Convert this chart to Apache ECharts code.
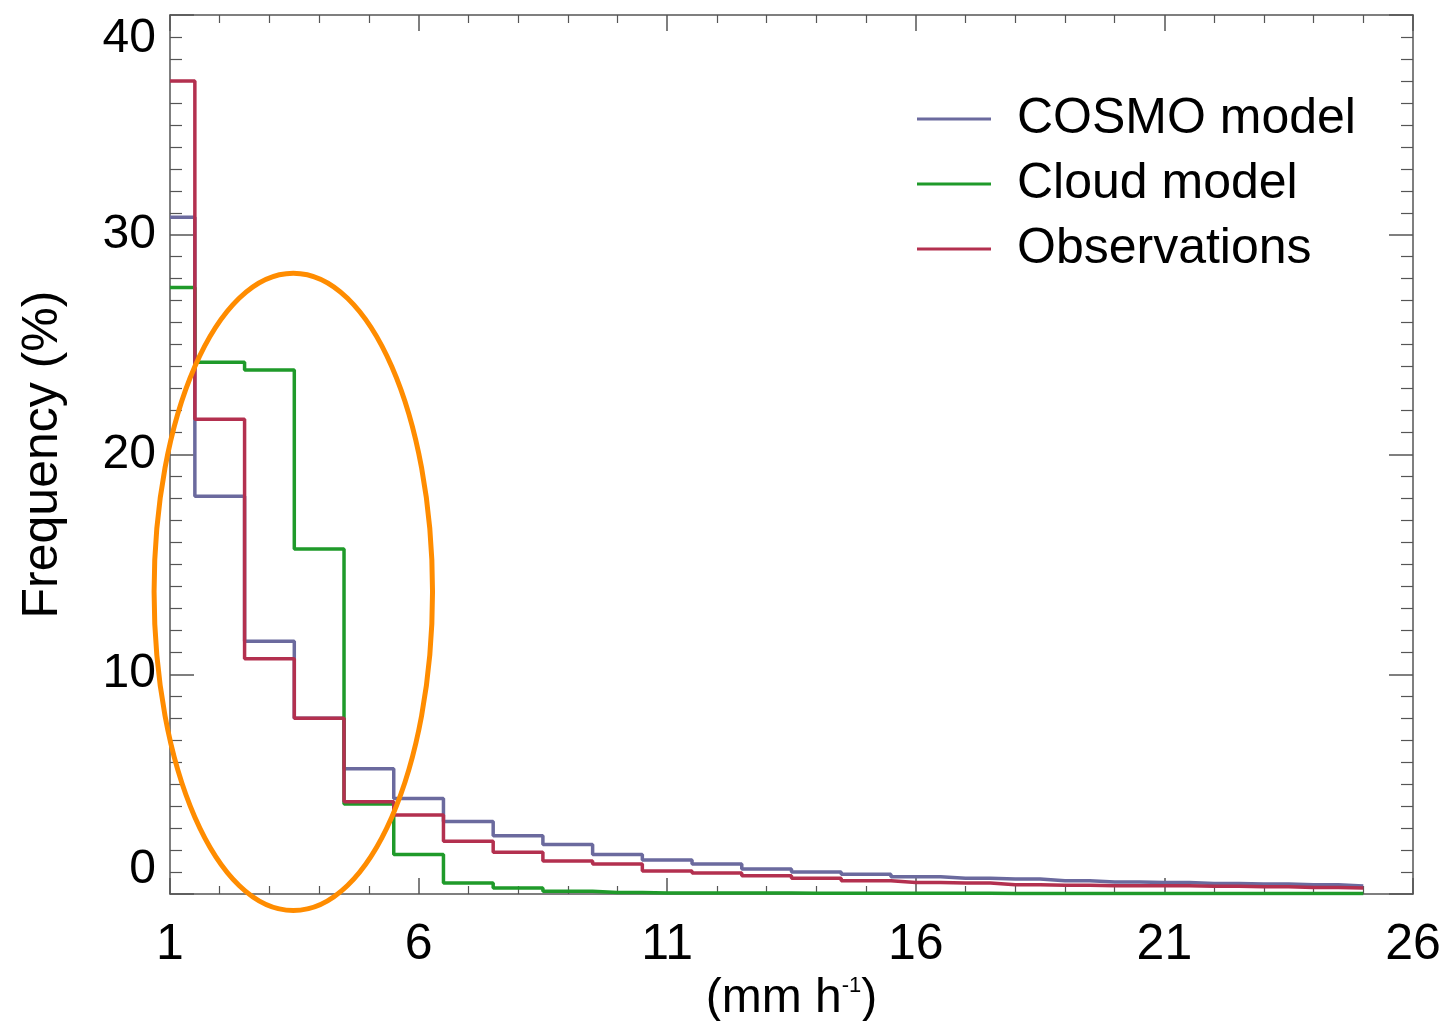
<!DOCTYPE html>
<html>
<head>
<meta charset="utf-8">
<script src="https://cdn.jsdelivr.net/npm/echarts@6/dist/echarts.min.js"></script>
<style>
  html, body { margin: 0; padding: 0; background: #fff; }
  #chart { width: 1446px; height: 1021px; }
</style>
</head>
<body>
<div id="chart"></div>
<script>
// rain rate bin centres (mm h-1)
const rates = [1, 2, 3, 4, 5, 6, 7, 8, 9, 10, 11, 12, 13, 14, 15, 16, 17, 18, 19, 20, 21, 22, 23, 24, 25]

const cosmo = [30.8, 18.1, 11.5, 8.0, 5.7, 4.35, 3.3, 2.65, 2.25, 1.8, 1.55, 1.37, 1.14, 1.0, 0.9, 0.78, 0.72, 0.68, 0.6, 0.55, 0.52, 0.48, 0.45, 0.42, 0.36]
const cloud = [27.6, 24.2, 23.85, 15.7, 4.1, 1.8, 0.5, 0.27, 0.12, 0.07, 0.05, 0.04, 0.04, 0.03, 0.03, 0.03, 0.03, 0.02, 0.02, 0.02, 0.02, 0.02, 0.02, 0.02, 0.02]
const obs = [37.0, 21.6, 10.7, 8.0, 4.2, 3.6, 2.4, 1.9, 1.5, 1.37, 1.05, 0.95, 0.83, 0.72, 0.6, 0.52, 0.5, 0.42, 0.4, 0.38, 0.37, 0.35, 0.33, 0.3, 0.27]

const seriesNames = ['COSMO model', 'Cloud model', 'Observations']
const seriesColors = ['#6b6a9e', '#1f9a2a', '#b3304f']

// orange annotation ellipse: centre x, centre y, x radius, y radius (data units)
const highlight = [3.48, 13.75, 2.8, 14.5]

const chart = echarts.init(document.getElementById('chart'))

const font = '"Liberation Sans", Arial, Helvetica, sans-serif'
const axisColor = '#555'

const makeSeries = (name, values, i) => ({
  name,
  type: 'line',
  step: 'middle',
  symbol: 'none',
  data: rates.map((r, k) => [r, values[k]]),
  lineStyle: { color: seriesColors[i], width: 3.5 },
  itemStyle: { color: seriesColors[i] },
  z: i === 2 ? 4 : 3
})

const frameAxisX = (show) => ({
  type: 'value',
  min: 1,
  max: 26,
  interval: 5,
  axisLine: { show: true, onZero: false, lineStyle: { color: axisColor, width: 1.5 } },
  axisTick: { show: true, inside: true, length: 16, lineStyle: { color: axisColor, width: 1.5 } },
  minorTick: { show: true, splitNumber: 5, length: 8, lineStyle: { color: axisColor, width: 1.2 } },
  splitLine: { show: false },
  axisLabel: show
    ? { show: true, fontFamily: font, fontSize: 50, color: '#000', margin: 26 }
    : { show: false }
})

const frameAxisY = (show) => ({
  type: 'value',
  min: 0,
  max: 40,
  interval: 10,
  axisLine: { show: true, onZero: false, lineStyle: { color: axisColor, width: 1.5 } },
  axisTick: { show: true, inside: true, length: 24, lineStyle: { color: axisColor, width: 1.5 } },
  minorTick: { show: true, splitNumber: 10, length: 12, lineStyle: { color: axisColor, width: 1.2 } },
  splitLine: { show: false },
  axisLabel: show
    ? {
        show: true, fontFamily: font, fontSize: 48, color: '#000', margin: 14,
        verticalAlignMinLabel: 'bottom', verticalAlignMaxLabel: 'top'
      }
    : { show: false }
})

const option = {
  backgroundColor: '#fff',
  animation: false,
  grid: { left: 170, right: 33, top: 15, bottom: 127, outerBoundsMode: 'none', containLabel: false },
  legend: {
    data: seriesNames,
    orient: 'vertical',
    left: 917,
    top: 93,
    padding: 0,
    icon: 'rect',
    itemWidth: 74,
    itemHeight: 3,
    itemGap: 13,
    textStyle: { fontFamily: font, fontSize: 50, color: '#000', padding: [0, 0, 0, 21], lineHeight: 52 }
  },
  xAxis: [
    {
      ...frameAxisX(true),
      position: 'bottom',
      name: '{a|(mm h}{s|-1}{a|)}',
      nameLocation: 'middle',
      nameGap: 76,
      nameTextStyle: {
        rich: {
          a: { fontFamily: font, fontSize: 48, color: '#000' },
          s: { fontFamily: font, fontSize: 22, color: '#000', verticalAlign: 'top', padding: [0, 0, 22, 0] }
        }
      }
    },
    { ...frameAxisX(false), position: 'top' }
  ],
  yAxis: [
    {
      ...frameAxisY(true),
      position: 'left',
      name: 'Frequency (%)',
      nameLocation: 'middle',
      nameGap: 102,
      nameRotate: 90,
      nameTextStyle: { fontFamily: font, fontSize: 50, color: '#000' }
    },
    { ...frameAxisY(false), position: 'right' }
  ],
  series: [
    ...[cosmo, cloud, obs].map((v, i) => makeSeries(seriesNames[i], v, i)),
    {
      type: 'custom',
      silent: true,
      clip: false,
      z: 10,
      data: [highlight],
      renderItem: (params, api) => {
        const c = api.coord([api.value(0), api.value(1)])
        const s = api.size([api.value(2), api.value(3)])
        return {
          type: 'ellipse',
          shape: { cx: c[0], cy: c[1], rx: s[0], ry: s[1] },
          style: { fill: 'none', stroke: '#ff8c00', lineWidth: 5 }
        }
      }
    }
  ]
}

chart.setOption(option)
</script>
</body>
</html>
